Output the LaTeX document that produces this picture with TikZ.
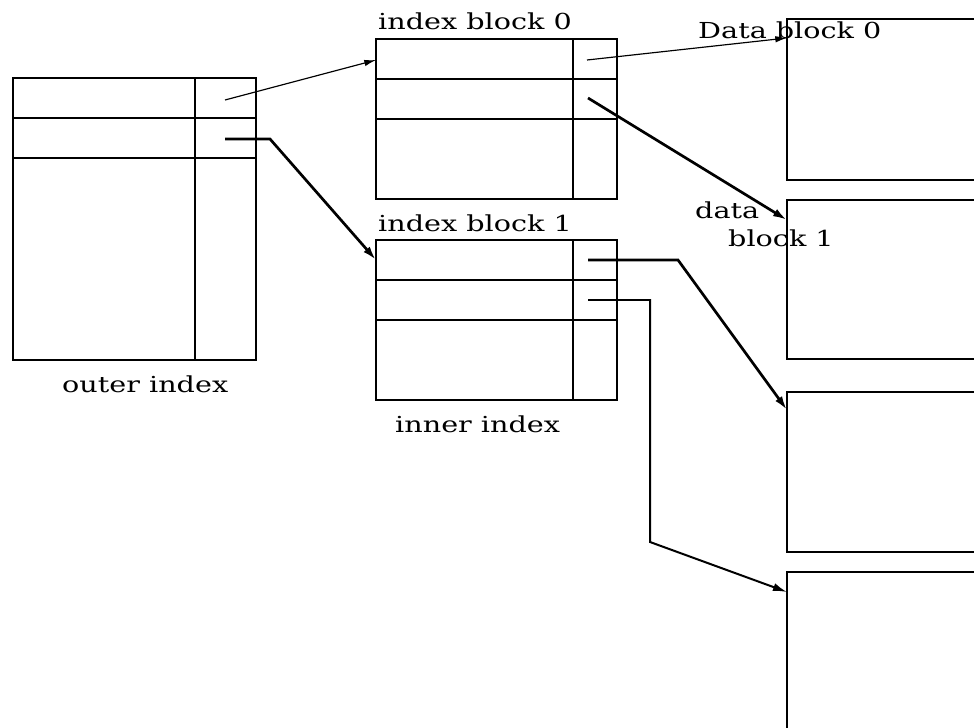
\documentclass[tikz,border=0pt]{standalone}
\usepackage{fontspec}
\setmainfont{DejaVu Serif}[FakeStretch=1.3]
\usetikzlibrary{positioning, arrows.meta, calc}

\begin{document}
\begin{tikzpicture}[x=0.03cm, y=-0.03cm,
    blk/.style={draw, line width=1.4pt, rectangle, anchor=north west, inner sep=0pt, outer sep=0pt},
    lbl/.style={anchor=base west, inner sep=0pt, font=\fontsize{18.8}{22}\selectfont},
    ptr/.style={-{Latex[length=12pt, width=7pt]}, line width=2.3pt},
    thinptr/.style={-{Latex[length=10pt, width=5.5pt]}, line width=1pt}]
    \clip (0,0) rectangle (974,728);

    % Blocs
    \node[blk, minimum width=7.29cm, minimum height=8.46cm] (outer) at (13,78) {};
    \node[blk, minimum width=7.23cm, minimum height=4.8cm] (ib0) at (376,39) {};
    \node[blk, minimum width=7.23cm, minimum height=4.8cm] (ib1) at (376,240) {};
    \node[blk, minimum width=7.5cm, minimum height=4.83cm] (db0) at (787,19) {};
    \node[blk, minimum width=7.5cm, minimum height=4.77cm] (db1) at (787,200) {};
    \node[blk, minimum width=7.5cm, minimum height=4.8cm] (db2) at (787,392) {};
    \node[blk, minimum width=7.5cm, minimum height=6cm] (db3) at (787,572) {};

    % Cases
    \draw[line width=1.4pt] (195,78) -- (195,360) (13,118) -- (256,118) (13,158) -- (256,158);
    \foreach \t in {39,240}
        \draw[line width=1.4pt] (573,\t) -- (573,\t+160) (376,\t+40) -- (617,\t+40) (376,\t+80) -- (617,\t+80);

    % Etiquettes
    \node[lbl] (ib0lbl) at (378,29) {index block 0};
    \node[lbl] (ib1lbl) at (378,231) {index block 1};
    \node[lbl] (outerlbl) at (62,392) {outer index};
    \node[lbl] (innerlbl) at (395,432) {inner index};
    \node[lbl] (db0lbl) at (698,39) {Data block 0};
    \node[lbl] (db1lbla) at (695,218) {data};
    \node[lbl] (db1lblb) at (728,246) {block 1};

    % Pointeurs
    \coordinate (o0) at (225,100);
    \coordinate (o1) at (225,139);
    \coordinate (a0) at (587,60);
    \coordinate (a1) at (588,98);
    \coordinate (b0) at (588,260);
    \coordinate (b1) at (588,300);

    % Flèches
    \draw[thinptr] (o0) -- ($(ib0.north west)+(0,21)$);
    \draw[ptr] (o1) -- ++(45,0) -- ($(ib1.north west)+(0,20)$);
    \draw[thinptr] (a0) -- ($(db0.north west)+(0,19)$);
    \draw[ptr] (a1) -- ($(db1.north west)+(0,20)$);
    \draw[ptr] (b0) -- ++(90,0) -- ($(db2.north west)+(0,18)$);
    \draw[ptr, line width=1.7pt] (b1) -- ++(62,0) -- ++(0,242) -- ($(db3.north west)+(0,20)$);
\end{tikzpicture}
\end{document}
